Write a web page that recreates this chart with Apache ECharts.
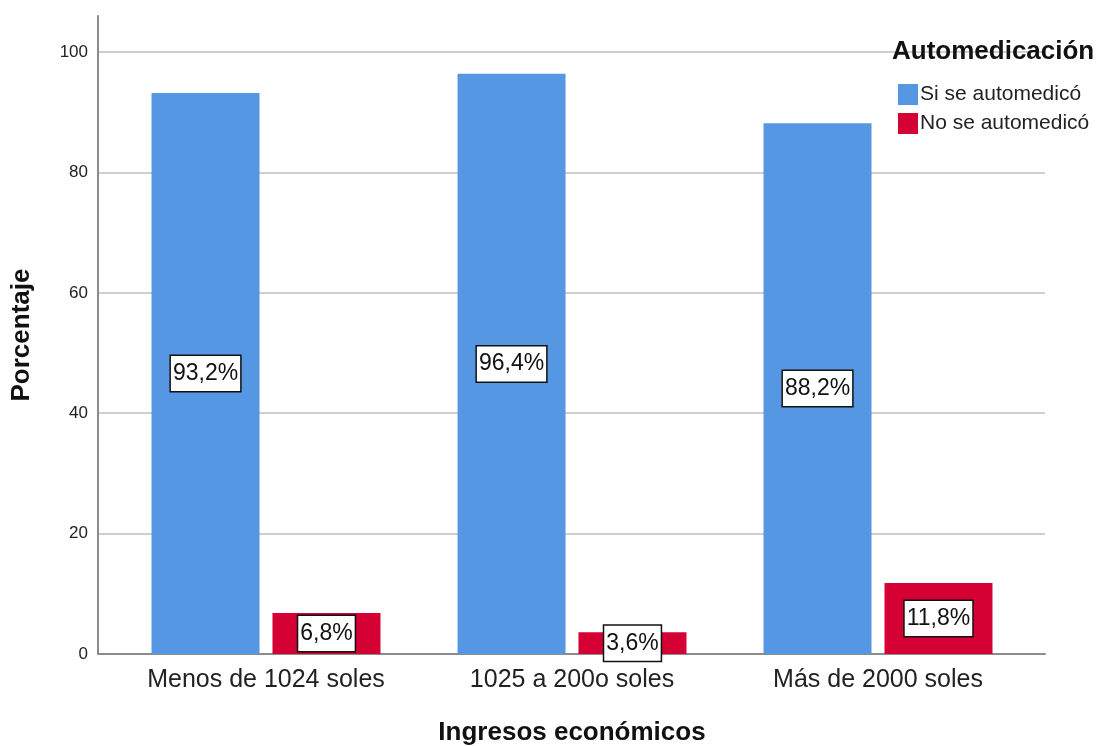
<!DOCTYPE html>
<html>
<head>
<meta charset="utf-8">
<script src="https://cdn.jsdelivr.net/npm/echarts@6/dist/echarts.min.js"></script>
<style>
  html, body { margin: 0; padding: 0; background: #fff; }
  #chart { width: 1100px; height: 746px; }
</style>
</head>
<body>
<div id="chart"></div>
<script>
const categories = ["Menos de 1024 soles", "1025 a 200o soles", "Más de 2000 soles"];
const seAutomedico = [93.2, 96.4, 88.2];
const noSeAutomedico = [6.8, 3.6, 11.8];
const seriesNames = ["Si se automedicó", "No se automedicó"];

const font = "Liberation Sans, Arial, sans-serif";

// etiqueta blanca con borde negro
const boxLabel = {
  show: true,
  position: "inside",
  formatter: (p) => p.value.toFixed(1).replace(".", ",") + "%",
  color: "#111",
  fontFamily: font,
  fontSize: 23,
  backgroundColor: "#fff",
  borderColor: "#111",
  borderWidth: 1.5,
  padding: [7, 2, 5, 2],
};

const chart = echarts.init(document.getElementById("chart"));
chart.setOption({
  animation: false,
  textStyle: { fontFamily: font },
  title: {
    text: "Automedicación",
    left: 887,
    top: 34,
    textStyle: { fontSize: 26, fontWeight: "bold", color: "#111", fontFamily: font },
  },
  legend: {
    orient: "vertical",
    left: 893,
    top: 79,
    itemWidth: 20,
    itemHeight: 21,
    itemGap: 8,
    icon: "rect",
    data: seriesNames,
    textStyle: { fontSize: 21, color: "#222", fontFamily: font, padding: [0, 0, 0, -3] },
  },
  grid: [
    { left: 98, right: 55, top: 16, bottom: 92, outerBoundsMode: "none", containLabel: false },
    { left: 113, width: 918, top: 16, bottom: 92, outerBoundsMode: "none", containLabel: false },
  ],
  xAxis: [
    {
      type: "category",
      gridIndex: 0,
      data: [""],
      axisLine: { lineStyle: { color: "#8c8c8c", width: 2 } },
      axisTick: { show: false },
      axisLabel: { show: false },
    },
    {
      type: "category",
      gridIndex: 1,
      data: categories,
      axisLine: { show: false },
      axisTick: { show: false },
      axisLabel: { interval: 0, fontSize: 25, color: "#222", margin: 14, fontFamily: font },
      name: "Ingresos económicos",
      nameLocation: "middle",
      nameGap: 66,
      nameTextStyle: { fontSize: 26, fontWeight: "bold", color: "#111", fontFamily: font },
    },
  ],
  yAxis: [
    {
      type: "value",
      gridIndex: 0,
      min: 0,
      max: 106,
      interval: 20,
      axisLine: { show: true, lineStyle: { color: "#8c8c8c", width: 2 } },
      axisTick: { show: false },
      axisLabel: { fontSize: 17, color: "#222", margin: 10, showMaxLabel: false, fontFamily: font },
      splitLine: { show: true, showMaxLine: false, lineStyle: { color: "#cfcfcf", width: 2 } },
      name: "Porcentaje",
      nameLocation: "middle",
      nameGap: 63,
      nameTextStyle: { fontSize: 26, fontWeight: "bold", color: "#111", fontFamily: font },
    },
    {
      type: "value",
      gridIndex: 1,
      min: 0,
      max: 106,
      interval: 20,
      show: false,
      splitLine: { show: false },
    },
  ],
  series: [
    {
      name: seriesNames[0],
      type: "bar",
      xAxisIndex: 1,
      yAxisIndex: 1,
      data: seAutomedico,
      barWidth: 108,
      barGap: "12%",
      itemStyle: { color: "#5597e3" },
      label: boxLabel,
    },
    {
      name: seriesNames[1],
      type: "bar",
      xAxisIndex: 1,
      yAxisIndex: 1,
      data: noSeAutomedico,
      barWidth: 108,
      barGap: "12%",
      itemStyle: { color: "#d50034" },
      label: boxLabel,
    },
  ],
});
</script>
</body>
</html>
